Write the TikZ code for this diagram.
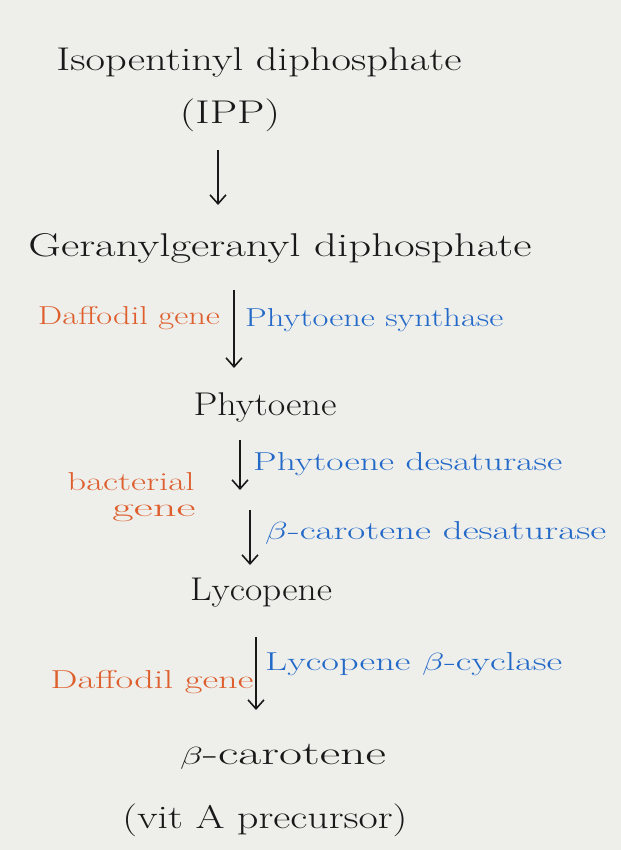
\documentclass[tikz,border=0pt]{standalone}
\usetikzlibrary{arrows.meta}
\usepackage{graphicx}
\definecolor{paper}{RGB}{238,238,235}
\definecolor{ink}{RGB}{25,25,25}
\definecolor{orangeink}{RGB}{222,95,45}
\definecolor{blueink}{RGB}{35,105,200}
\newcommand{\hwid}[2]{\resizebox{#1bp}{\height}{#2}}
\begin{document}
\begin{tikzpicture}[x=1bp,y=-1bp,
  main/.style={text=ink,inner sep=0pt,font=\fontsize{33}{36}\selectfont},
  gene/.style={text=orangeink,inner sep=0pt,font=\fontsize{26}{30}\selectfont},
  enzyme/.style={text=blueink,inner sep=0pt,font=\fontsize{26}{30}\selectfont},
  arr/.style={draw=ink,line width=1.6pt,-{Straight Barb[length=9pt,width=16pt,line width=1.6pt]}}]
\fill[paper] (0,0) rectangle (621,850);
\useasboundingbox (0,0) rectangle (621,850);
% main compounds
\node[main] (ipp) at (259,62) {\hwid{405}{Isopentinyl diphosphate}};
\node[main] (ippab) at (230,115) {\hwid{100}{(IPP)}};
\node[main] (ggpp) at (280,248) {\hwid{503}{Geranylgeranyl diphosphate}};
\node[main] (phy) at (265,407) {\hwid{143}{Phytoene}};
\node[main] (lyc) at (261,593) {\hwid{142}{Lycopene}};
\node[main] (bcar) at (283,757) {\hwid{206}{$\beta$-carotene}};
\node[main] (vita) at (265,820) {\hwid{285}{(vit A precursor)}};
% genes
\node[gene] (daf1) at (129,318) {\hwid{182}{Daffodil gene}};
\node[gene] (bac1) at (131,482) {\hwid{127}{bacterial}};
\node[gene] (bac2) at (154,513) {\hwid{83}{gene}};
\node[gene] (daf2) at (152,682) {\hwid{203}{Daffodil gene}};
% enzymes
\node[enzyme,anchor=west] (psy) at (245,320) {\hwid{258}{Phytoene synthase}};
\node[enzyme,anchor=west] (pds) at (253,464) {\hwid{309}{Phytoene desaturase}};
\node[enzyme,anchor=west] (cds) at (265,533) {\hwid{341}{$\beta$-carotene desaturase}};
\node[enzyme,anchor=west] (lcy) at (265,664) {\hwid{297}{Lycopene $\beta$-cyclase}};
% arrow coordinates
\coordinate (a1s) at (218,150); \coordinate (a1e) at (218,205);
\coordinate (a2s) at (234,290); \coordinate (a2e) at (234,368);
\coordinate (a3s) at (240,440); \coordinate (a3e) at (240,490);
\coordinate (a4s) at (250,510); \coordinate (a4e) at (250,565);
\coordinate (a5s) at (256,637); \coordinate (a5e) at (256,710);
\draw[arr] (a1s) -- (a1e);
\draw[arr] (a2s) -- (a2e);
\draw[arr] (a3s) -- (a3e);
\draw[arr] (a4s) -- (a4e);
\draw[arr] (a5s) -- (a5e);
\end{tikzpicture}
\end{document}
